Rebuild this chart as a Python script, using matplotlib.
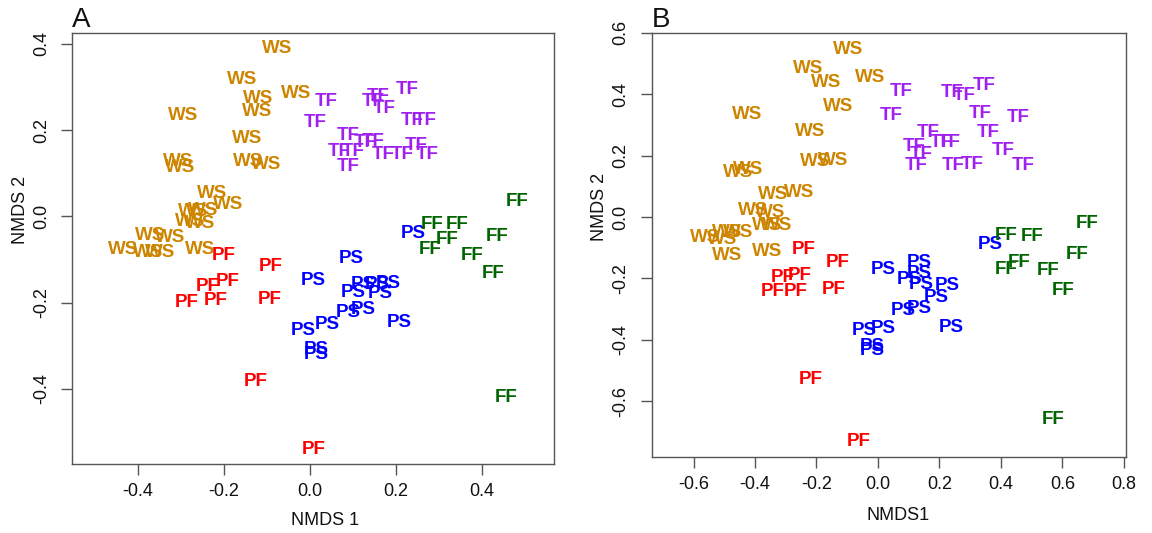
import matplotlib
matplotlib.use("Agg")
import matplotlib.pyplot as plt

# ---------------- data: panel A ----------------
a_ws_x = [-0.077, -0.158, -0.121, -0.033, -0.123, -0.295, -0.147, -0.307, -0.302, -0.144, -0.102,
          -0.228, -0.191, -0.272, -0.249, -0.279, -0.256, -0.372, -0.326, -0.435, -0.377, -0.349, -0.256]
a_ws_y = [0.393, 0.323, 0.277, 0.290, 0.247, 0.238, 0.186, 0.133, 0.119, 0.131, 0.126,
          0.057, 0.033, 0.015, 0.019, -0.008, -0.013, -0.039, -0.045, -0.071, -0.078, -0.078, -0.071]
a_tf_x = [0.037, 0.012, 0.158, 0.147, 0.172, 0.226, 0.237, 0.267, 0.088, 0.128, 0.147,
          0.067, 0.100, 0.088, 0.170, 0.214, 0.247, 0.272]
a_tf_y = [0.271, 0.223, 0.283, 0.270, 0.254, 0.298, 0.228, 0.228, 0.191, 0.177, 0.179,
          0.156, 0.156, 0.121, 0.147, 0.147, 0.168, 0.147]
a_ps_x = [0.240, 0.095, 0.007, 0.123, 0.100, 0.156, 0.181, 0.163, 0.088, 0.123, 0.040,
          -0.016, 0.207, 0.014, 0.014]
a_ps_y = [-0.036, -0.094, -0.143, -0.154, -0.171, -0.154, -0.152, -0.173, -0.219, -0.212, -0.247,
          -0.261, -0.242, -0.305, -0.316]
a_pf_x = [-0.200, -0.091, -0.237, -0.191, -0.286, -0.219, -0.093, -0.126, 0.009]
a_pf_y = [-0.087, -0.111, -0.159, -0.147, -0.196, -0.191, -0.187, -0.377, -0.535]
a_ff_x = [0.481, 0.284, 0.342, 0.319, 0.435, 0.279, 0.377, 0.426, 0.456]
a_ff_y = [0.038, -0.015, -0.015, -0.048, -0.041, -0.071, -0.085, -0.127, -0.416]

# ---------------- data: panel B ----------------
b_ws_x = [-0.098, -0.228, -0.170, -0.024, -0.131, -0.424, -0.222, -0.206, -0.147, -0.455, -0.423,
          -0.342, -0.258, -0.407, -0.352, -0.362, -0.329, -0.563, -0.492, -0.455, -0.508, -0.492, -0.359]
b_ws_y = [0.554, 0.492, 0.446, 0.460, 0.368, 0.342, 0.284, 0.189, 0.190, 0.151, 0.161,
          0.080, 0.086, 0.027, 0.021, -0.022, -0.022, -0.060, -0.044, -0.044, -0.066, -0.118, -0.106]
b_tf_x = [0.077, 0.044, 0.243, 0.282, 0.347, 0.331, 0.457, 0.165, 0.360, 0.119, 0.142,
          0.207, 0.233, 0.126, 0.246, 0.308, 0.408, 0.474]
b_tf_y = [0.417, 0.336, 0.411, 0.401, 0.434, 0.343, 0.332, 0.281, 0.281, 0.235, 0.211,
          0.248, 0.250, 0.175, 0.173, 0.177, 0.222, 0.173]
b_ps_x = [0.366, 0.016, 0.135, 0.135, 0.103, 0.142, 0.226, 0.191, 0.081, 0.135, -0.043,
          0.016, -0.017, -0.017, 0.239]
b_ps_y = [-0.083, -0.164, -0.142, -0.177, -0.197, -0.213, -0.216, -0.255, -0.297, -0.291, -0.363,
          -0.356, -0.415, -0.428, -0.353]
b_pf_x = [-0.241, -0.131, -0.310, -0.254, -0.343, -0.268, -0.144, -0.219, -0.063]
b_pf_y = [-0.100, -0.143, -0.190, -0.184, -0.237, -0.237, -0.229, -0.522, -0.724]
b_ff_x = [0.682, 0.418, 0.503, 0.460, 0.418, 0.649, 0.555, 0.601, 0.571]
b_ff_y = [-0.015, -0.054, -0.058, -0.142, -0.165, -0.115, -0.168, -0.233, -0.652]

group_names = ["WS", "TF", "PS", "PF", "FF"]
group_colors = ["#CD8500", "#A020F0", "#0000FF", "#FF0000", "#006400"]

a_ticks_x = [-0.4, -0.2, 0.0, 0.2, 0.4]
a_ticks_y = [-0.4, -0.2, 0.0, 0.2, 0.4]
b_ticks_x = [-0.6, -0.4, -0.2, 0.0, 0.2, 0.4, 0.6, 0.8]
b_ticks_y = [-0.6, -0.4, -0.2, 0.0, 0.2, 0.4, 0.6]

plt.rcParams['font.family'] = ['Liberation Sans', 'DejaVu Sans']

W, H = 1152, 533
fig = plt.figure(figsize=(W / 100, H / 100), dpi=100)


def make_axes(left, right, top, bottom):
    return fig.add_axes([left / W, (H - bottom) / H, (right - left) / W, (bottom - top) / H])


def style(ax, xticks, yticks, xlim, ylim, xlabel, letter, xlab_pos, ylab_pos):
    ax.set_xlim(*xlim)
    ax.set_ylim(*ylim)
    ax.set_xticks(xticks)
    ax.set_yticks(yticks)
    ax.set_xticklabels([f"{t:.1f}" for t in xticks])
    ax.set_yticklabels([f"{t:.1f}" for t in yticks], rotation=90, va="center")
    for s in ax.spines.values():
        s.set_color("#555555")
        s.set_linewidth(1.0)
    ax.tick_params(axis="both", length=8, width=1.0, color="#555555", labelsize=13,
                   labelcolor="#111111")
    ax.tick_params(axis="x", pad=6)
    ax.tick_params(axis="y", pad=8)
    ax.set_xlabel(xlabel, fontsize=13, color="#111111")
    ax.set_ylabel("NMDS 2", fontsize=13, color="#111111")
    ax.xaxis.set_label_coords(*xlab_pos)
    ax.xaxis.label.set_va("center")
    ax.yaxis.set_label_coords(*ylab_pos)
    ax.yaxis.label.set_va("center")
    ax.text(0.0, 1.0, letter, transform=ax.transAxes, ha="left", va="bottom",
            fontsize=20, color="#111111")


def draw(ax, xs, ys):
    for name, col, gx, gy in zip(group_names, group_colors, xs, ys):
        for x, y in zip(gx, gy):
            ax.text(x, y, name, color=col, fontsize=13.5, fontweight="bold",
                    ha="center", va="center_baseline")


axA = make_axes(72.3, 554.3, 32.6, 464.0)
draw(axA, [a_ws_x, a_tf_x, a_ps_x, a_pf_x, a_ff_x], [a_ws_y, a_tf_y, a_ps_y, a_pf_y, a_ff_y])
style(axA, a_ticks_x, a_ticks_y, (-0.553, 0.568), (-0.574, 0.426), "NMDS 1", "A",
      (0.524, -0.132), (-0.108, 0.589))

axB = make_axes(651.7, 1125.7, 32.6, 457.0)
draw(axB, [b_ws_x, b_tf_x, b_ps_x, b_pf_x, b_ff_x], [b_ws_y, b_tf_y, b_ps_y, b_pf_y, b_ff_y])
style(axB, b_ticks_x, b_ticks_y, (-0.736, 0.806), (-0.782, 0.601), "NMDS1", "B",
      (0.52, -0.137), (-0.111, 0.589))

fig.savefig("out.png", dpi=100)
